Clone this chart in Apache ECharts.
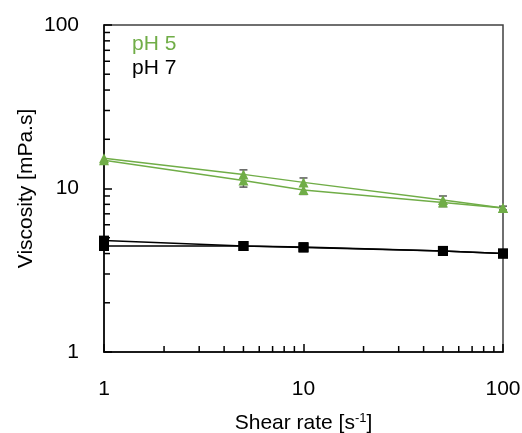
<!DOCTYPE html>
<html>
<head>
<meta charset="utf-8">
<script src="https://cdn.jsdelivr.net/npm/echarts@6/dist/echarts.min.js"></script>
<style>
html,body{margin:0;padding:0;background:#fff;}
#chart{width:522px;height:433px;}
</style>
</head>
<body>
<div id="chart"></div>
<script>
// ---- data ----
var shearRate = [1, 5, 10, 50, 100];
var ph5Up = [15.3, 12.2, 10.9, 8.5, 7.6];
var ph5Down = [14.9, 11.2, 9.8, 8.2, 7.6];
var ph5ErrLow = [null, 10.2, 9.2, 7.75, 7.4];
var ph5ErrHigh = [null, 13.0, 11.6, 9.0, 7.8];
var ph7Up = [4.8, 4.45, 4.38, 4.15, 4.0];
var ph7Down = [4.45, 4.45, 4.35, 4.15, 4.0];
var majorTicks = [1, 10, 100];
var minorTicks = [2, 3, 4, 5, 6, 7, 8, 9, 20, 30, 40, 50, 60, 70, 80, 90];
var seriesNames = ['pH 5', 'pH 7'];

var GREEN = '#70AD47';
var FONT = 'Liberation Sans, Arial, sans-serif';

function pairs(xs, ys) {
  return xs.map(function (x, i) { return [x, ys[i]]; });
}
var errData = [];
shearRate.forEach(function (x, i) {
  if (ph5ErrLow[i] != null) errData.push([x, ph5ErrLow[i], ph5ErrHigh[i]]);
});

var chart = echarts.init(document.getElementById('chart'), null, {renderer: 'canvas'});
var option = {
  animation: false,
  backgroundColor: '#fff',
  textStyle: {fontFamily: FONT},
  grid: {left: 104, right: 19, top: 25, bottom: 81, show: true, borderColor: '#404040', borderWidth: 1.5, backgroundColor: 'transparent',
    containLabel: false, outerBoundsMode: 'none'},
  legend: {
    orient: 'vertical', left: 122, top: 29, itemGap: 3, itemWidth: 0, itemHeight: 0, icon: 'none',
    selectedMode: false,
    data: [
      {name: seriesNames[0], textStyle: {color: GREEN}},
      {name: seriesNames[1], textStyle: {color: '#000'}}
    ],
    textStyle: {fontSize: 21, fontFamily: FONT}
  },
  xAxis: {
    type: 'log', logBase: 10, min: majorTicks[0], max: majorTicks[2],
    name: '{a|Shear rate [s}{s|-1}{a|]}', nameLocation: 'middle', nameGap: 60, nameMoveOverlap: false,
    nameTextStyle: {rich: {a: {fontSize: 21, color: '#000', fontFamily: FONT}, s: {fontSize: 13, color: '#000', fontFamily: FONT, verticalAlign: 'top', padding: [0, 0, 10, 0]}}},
    axisLine: {lineStyle: {color: '#000', width: 1.5}},
    axisTick: {inside: true, length: 8, lineStyle: {color: '#000', width: 1.5}},
    axisLabel: {fontSize: 21, color: '#000', margin: 27, fontFamily: FONT},
    splitLine: {show: false}, minorTick: {show: false}
  },
  yAxis: {
    type: 'log', logBase: 10, min: majorTicks[0], max: majorTicks[2],
    name: 'Viscosity [mPa.s]', nameLocation: 'middle', nameGap: 67, nameMoveOverlap: false,
    nameTextStyle: {fontSize: 21, color: '#000', fontFamily: FONT},
    axisLine: {lineStyle: {color: '#000', width: 1.5}},
    axisTick: {inside: true, length: 8, lineStyle: {color: '#000', width: 1.5}},
    axisLabel: {fontSize: 21, color: '#000', margin: 25, fontFamily: FONT},
    splitLine: {show: false}, minorTick: {show: false}
  },
  series: [
    {
      type: 'custom', name: 'xMinor', silent: true, clip: false, z: 5,
      data: minorTicks.map(function (v) { return [v, majorTicks[0]]; }),
      renderItem: function (params, api) {
        var p = api.coord([api.value(0), api.value(1)]);
        return {type: 'line', shape: {x1: p[0], y1: p[1], x2: p[0], y2: p[1] - 6}, style: {stroke: '#000', lineWidth: 1.5}};
      }
    },
    {
      type: 'custom', name: 'yMinor', silent: true, clip: false, z: 5,
      data: minorTicks.map(function (v) { return [majorTicks[0], v]; }),
      renderItem: function (params, api) {
        var p = api.coord([api.value(0), api.value(1)]);
        return {type: 'line', shape: {x1: p[0], y1: p[1], x2: p[0] + 6, y2: p[1]}, style: {stroke: '#000', lineWidth: 1.5}};
      }
    },
    {
      type: 'custom', name: 'err', silent: true, clip: false, z: 1,
      data: errData,
      renderItem: function (params, api) {
        var lo = api.coord([api.value(0), api.value(1)]);
        var hi = api.coord([api.value(0), api.value(2)]);
        var st = {stroke: '#595959', lineWidth: 1.5};
        return {type: 'group', children: [
          {type: 'line', shape: {x1: lo[0], y1: lo[1], x2: hi[0], y2: hi[1]}, style: st},
          {type: 'line', shape: {x1: lo[0] - 4, y1: lo[1], x2: lo[0] + 4, y2: lo[1]}, style: st},
          {type: 'line', shape: {x1: hi[0] - 4, y1: hi[1], x2: hi[0] + 4, y2: hi[1]}, style: st}
        ]};
      }
    },
    {name: seriesNames[0], type: 'line', data: pairs(shearRate, ph5Up), symbol: 'triangle', symbolSize: 10, clip: false, z: 3,
      lineStyle: {color: GREEN, width: 1.5}, itemStyle: {color: GREEN}},
    {name: seriesNames[0], type: 'line', data: pairs(shearRate, ph5Down), symbol: 'triangle', symbolSize: 10, clip: false, z: 3,
      lineStyle: {color: GREEN, width: 1.5}, itemStyle: {color: GREEN}},
    {name: seriesNames[1], type: 'line', data: pairs(shearRate, ph7Up), symbol: 'rect', symbolSize: 10, clip: false, z: 3,
      lineStyle: {color: '#000', width: 1.5}, itemStyle: {color: '#000'}},
    {name: seriesNames[1], type: 'line', data: pairs(shearRate, ph7Down), symbol: 'rect', symbolSize: 10, clip: false, z: 3,
      lineStyle: {color: '#000', width: 1.5}, itemStyle: {color: '#000'}}
  ]
};
chart.setOption(option);
</script>
</body>
</html>
